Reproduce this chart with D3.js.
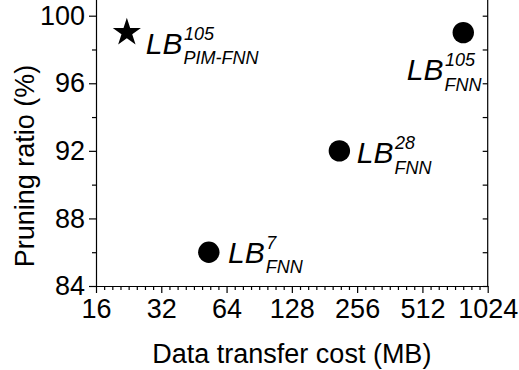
<!DOCTYPE html>
<html>
<head>
<meta charset="utf-8">
<script src="https://cdn.jsdelivr.net/npm/d3@7"></script>
<style>
  html, body { margin: 0; padding: 0; background: #fff; }
  svg { display: block; font-family: "Liberation Sans", Arial, sans-serif; }
</style>
</head>
<body>
<svg id="chart" width="519" height="370"></svg>
<script>
// Data transfer cost (MB) vs pruning ratio (%) for each lower-bound method
const methods = ["PIM-FNN-105", "FNN-105", "FNN-28", "FNN-7"];
const labelSup = ["105", "105", "28", "7"];
const labelSub = ["PIM-FNN", "FNN", "FNN", "FNN"];
const transferCost = [22.2, 790, 212, 53];
const pruningRatio = [99, 99, 92, 86];
const markerShape = ["star", "circle", "circle", "circle"];

const xTicks = [16, 32, 64, 128, 256, 512, 1024];
const yTicks = [84, 88, 92, 96, 100];

// Label placement relative to each marker (LB start, baseline)
const labelOffset = [[19, 21], [-56.5, 47.5], [17.5, 12.6], [19.3, 10.6]];

const svg = d3.select("#chart");
const left = 96, right = 487.7, bottom = 286, pxPerUnit = 16.894;

const x = d3.scaleLog().base(2).domain([16, 1024]).range([left, right]);
const y = d3.scaleLinear().domain([84, 101]).range([bottom, bottom - 17 * pxPerUnit]);

// log-spaced minor ticks: 7 between each pair of majors
const xMinor = [];
for (let i = 0; i < xTicks.length - 1; i++) {
  for (let k = 1; k < 8; k++) xMinor.push(xTicks[i] * Math.pow(2, k / 8));
}
const yMinor = d3.range(86, 101, 4);
const yRight = d3.range(84, 101, 2);

const axisStyle = g => {
  g.selectAll("path.domain").attr("stroke", "#000").attr("stroke-width", 1.2);
  g.selectAll(".tick line").attr("stroke", "#000").attr("stroke-width", 1.2);
  g.selectAll(".tick text").attr("fill", "#000").attr("font-size", 27);
};

// bottom axis
svg.append("g").attr("transform", `translate(0,${bottom})`)
  .call(d3.axisBottom(x).tickValues(xMinor).tickFormat("").tickSize(4).tickSizeOuter(0))
  .call(axisStyle).call(g => g.select("path.domain").remove());
svg.append("g").attr("transform", `translate(0,${bottom})`)
  .call(d3.axisBottom(x).tickValues(xTicks).tickFormat(d3.format("d")).tickSize(7).tickSizeOuter(0).tickPadding(6.3))
  .call(axisStyle);

// left axis
svg.append("g").attr("transform", `translate(${left},0)`)
  .call(d3.axisLeft(y).tickValues(yMinor).tickFormat("").tickSize(4).tickSizeOuter(0))
  .call(axisStyle).call(g => g.select("path.domain").remove());
svg.append("g").attr("transform", `translate(${left},0)`)
  .call(d3.axisLeft(y).tickValues(yTicks).tickFormat(d3.format("d")).tickSize(7).tickSizeOuter(0).tickPadding(4))
  .call(axisStyle);

// right axis, inward ticks
svg.append("g").attr("transform", `translate(${right},0)`)
  .call(d3.axisLeft(y).tickValues(yRight).tickFormat("").tickSize(5).tickSizeOuter(0))
  .call(axisStyle)
  .call(g => g.select("path.domain").attr("d", `M0,${y(84)}V${y(101)}`));

// axis titles
svg.append("text")
  .attr("x", (left + right) / 2).attr("y", 363)
  .attr("text-anchor", "middle").attr("font-size", 27)
  .text("Data transfer cost (MB)");
svg.append("text")
  .attr("transform", "translate(33.5,166) rotate(-90)")
  .attr("text-anchor", "middle").attr("font-size", 27)
  .text("Pruning ratio (%)");

// markers
const points = methods.map((m, i) => ({
  name: m, cx: x(transferCost[i]), cy: y(pruningRatio[i]),
  shape: markerShape[i], sup: labelSup[i], sub: labelSub[i], off: labelOffset[i]
}));

svg.append("g").selectAll("path").data(points).join("path")
  .attr("transform", d => `translate(${d.cx},${d.cy})`)
  .attr("d", d => d.shape === "star"
    ? d3.symbol(d3.symbolStar, 246)()
    : d3.symbol(d3.symbolCircle, Math.PI * 10.7 * 10.7)())
  .attr("fill", "#000");

// LB labels with superscript and subscript
points.forEach(d => {
  const bx = d.cx + d.off[0], by = d.cy + d.off[1];
  const main = svg.append("text")
    .attr("x", bx).attr("y", by)
    .attr("font-size", 30).attr("font-style", "italic")
    .text("LB");
  const w = main.node().getComputedTextLength();
  svg.append("text")
    .attr("x", bx + w + 1.5).attr("y", by - 14)
    .attr("font-size", 18).attr("font-style", "italic")
    .text(d.sup);
  svg.append("text")
    .attr("x", bx + w + 1).attr("y", by + 10.5)
    .attr("font-size", 18).attr("font-style", "italic")
    .text(d.sub);
});
</script>
</body>
</html>
